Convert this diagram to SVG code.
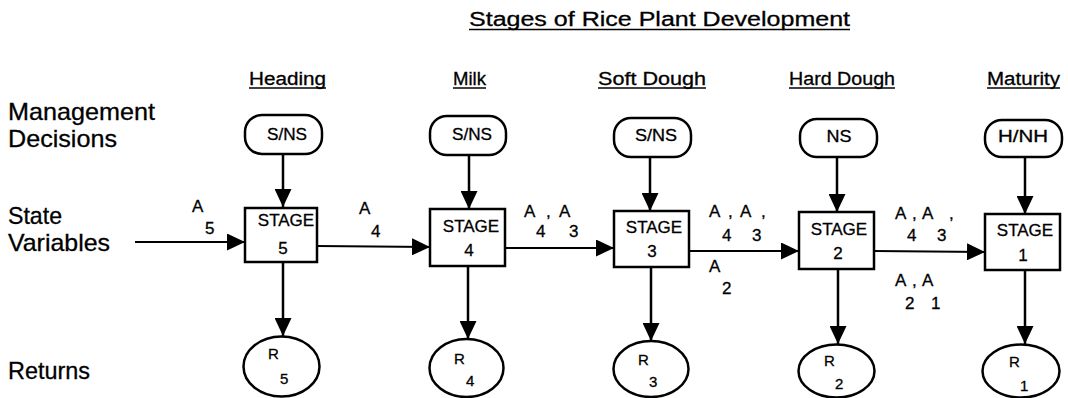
<svg xmlns="http://www.w3.org/2000/svg" width="1068" height="398" viewBox="0 0 1068 398">
<defs>
<marker id="ah" markerUnits="userSpaceOnUse" markerWidth="19" markerHeight="17" refX="18" refY="8.5" orient="auto">
<path d="M0,0 L18,8.5 L0,17 z" fill="#000"/>
</marker>
<style>
text{font-family:"Liberation Sans",Arial,sans-serif;fill:#000;stroke:#000;stroke-width:0.3}
.lbl{font-size:24px}
.hd{font-size:18px}
.ttl{font-size:20px}
.pt{font-size:16px;text-anchor:middle}
.st{font-size:17px;text-anchor:middle}
.sm{font-size:17px}
.rl{font-size:15px}
.ul{stroke:#000;stroke-width:1.5}
.pill,.box,.ell{fill:#fff;stroke:#000;stroke-width:2.5}
.con{stroke:#000;stroke-width:2.5;fill:none;marker-end:url(#ah)}
.hcon{stroke:#000;stroke-width:2;fill:none;marker-end:url(#ah)}
</style>
</defs>
<rect width="1068" height="398" fill="#fff"/>

<g id="title">
<text class="ttl" x="469" y="26" textLength="381" lengthAdjust="spacingAndGlyphs">Stages of Rice Plant Development</text>
<line class="ul" x1="469" y1="29.5" x2="850" y2="29.5"/>
</g>

<g id="stage-headings">
<text class="hd" x="249" y="85" textLength="77" lengthAdjust="spacingAndGlyphs">Heading</text>
<line class="ul" x1="249" y1="88" x2="326" y2="88"/>
<text class="hd" x="453" y="85" textLength="33" lengthAdjust="spacingAndGlyphs">Milk</text>
<line class="ul" x1="453" y1="88" x2="486" y2="88"/>
<text class="hd" x="598" y="85" textLength="108" lengthAdjust="spacingAndGlyphs">Soft Dough</text>
<line class="ul" x1="598" y1="88" x2="706" y2="88"/>
<text class="hd" x="789" y="85" textLength="106" lengthAdjust="spacingAndGlyphs">Hard Dough</text>
<line class="ul" x1="789" y1="88" x2="895" y2="88"/>
<text class="hd" x="987" y="85" textLength="73" lengthAdjust="spacingAndGlyphs">Maturity</text>
<line class="ul" x1="987" y1="88" x2="1060" y2="88"/>
</g>

<g id="row-labels">
<text class="lbl" x="8" y="120" textLength="147" lengthAdjust="spacingAndGlyphs">Management</text>
<text class="lbl" x="8" y="147" textLength="109" lengthAdjust="spacingAndGlyphs">Decisions</text>
<text class="lbl" x="8" y="224" textLength="54" lengthAdjust="spacingAndGlyphs">State</text>
<text class="lbl" x="8" y="251" textLength="102" lengthAdjust="spacingAndGlyphs">Variables</text>
<text class="lbl" x="8" y="379" textLength="82" lengthAdjust="spacingAndGlyphs">Returns</text>
</g>

<g id="connectors">
<line class="con" x1="283" y1="154" x2="283" y2="207"/>
<line class="con" x1="469" y1="155" x2="469" y2="209"/>
<line class="con" x1="650" y1="157" x2="650" y2="211"/>
<line class="con" x1="837" y1="157" x2="837" y2="212"/>
<line class="con" x1="1025" y1="157" x2="1025" y2="214"/>
<line class="hcon" x1="135" y1="242" x2="245" y2="242"/>
<line class="hcon" x1="317" y1="246" x2="430" y2="247"/>
<line class="hcon" x1="505" y1="248" x2="614" y2="248"/>
<line class="hcon" x1="689" y1="251" x2="799" y2="251"/>
<line class="hcon" x1="874" y1="251" x2="985" y2="252"/>
<line class="con" x1="283" y1="262" x2="283" y2="336"/>
<line class="con" x1="468" y1="266" x2="468" y2="339"/>
<line class="con" x1="651" y1="267" x2="651" y2="341"/>
<line class="con" x1="838" y1="269" x2="838" y2="344"/>
<line class="con" x1="1025" y1="270" x2="1025" y2="344"/>
</g>

<g id="connector-labels">
<text class="sm" x="192" y="212">A</text>
<text class="sm" x="205" y="234">5</text>
<text class="sm" x="359" y="214">A</text>
<text class="sm" x="371" y="237">4</text>
<text class="sm" x="524" y="217">A</text>
<text class="sm" x="546" y="217">,</text>
<text class="sm" x="559" y="217">A</text>
<text class="sm" x="536" y="237">4</text>
<text class="sm" x="569" y="237">3</text>
<text class="sm" x="709" y="217">A</text>
<text class="sm" x="728" y="217">,</text>
<text class="sm" x="740" y="217">A</text>
<text class="sm" x="761" y="217">,</text>
<text class="sm" x="722" y="241">4</text>
<text class="sm" x="752" y="241">3</text>
<text class="sm" x="709" y="272">A</text>
<text class="sm" x="722" y="294">2</text>
<text class="sm" x="895" y="219">A</text>
<text class="sm" x="912" y="219">,</text>
<text class="sm" x="922" y="219">A</text>
<text class="sm" x="949" y="219">,</text>
<text class="sm" x="907" y="241">4</text>
<text class="sm" x="937" y="241">3</text>
<text class="sm" x="895" y="286">A</text>
<text class="sm" x="912" y="286">,</text>
<text class="sm" x="922" y="286">A</text>
<text class="sm" x="905" y="309">2</text>
<text class="sm" x="931" y="309">1</text>
</g>

<g id="decision-heading">
<rect class="pill" x="245" y="115" width="77" height="39" rx="17"/>
<text class="pt" x="287" y="140" textLength="40" lengthAdjust="spacingAndGlyphs">S/NS</text>
</g>
<g id="decision-milk">
<rect class="pill" x="430" y="116" width="76" height="39" rx="17"/>
<text class="pt" x="472" y="140" textLength="40" lengthAdjust="spacingAndGlyphs">S/NS</text>
</g>
<g id="decision-softdough">
<rect class="pill" x="614" y="118" width="77" height="39" rx="17"/>
<text class="pt" x="656" y="141" textLength="42" lengthAdjust="spacingAndGlyphs">S/NS</text>
</g>
<g id="decision-harddough">
<rect class="pill" x="800" y="119" width="77" height="38" rx="17"/>
<text class="pt" x="839" y="142" textLength="25" lengthAdjust="spacingAndGlyphs">NS</text>
</g>
<g id="decision-maturity">
<rect class="pill" x="985" y="120" width="77" height="37" rx="17"/>
<text class="pt" x="1023" y="142" textLength="50" lengthAdjust="spacingAndGlyphs">H/NH</text>
</g>

<g id="stage5">
<rect class="box" x="245" y="208" width="72" height="54"/>
<text class="st" x="286" y="226">STAGE</text>
<text class="st" x="283" y="254">5</text>
</g>
<g id="stage4">
<rect class="box" x="430" y="209" width="75" height="57"/>
<text class="st" x="471" y="232">STAGE</text>
<text class="st" x="469" y="256">4</text>
</g>
<g id="stage3">
<rect class="box" x="614" y="211" width="75" height="56"/>
<text class="st" x="654" y="233">STAGE</text>
<text class="st" x="652" y="257">3</text>
</g>
<g id="stage2">
<rect class="box" x="799" y="212" width="75" height="57"/>
<text class="st" x="839" y="235">STAGE</text>
<text class="st" x="838" y="259">2</text>
</g>
<g id="stage1">
<rect class="box" x="985" y="214" width="75" height="56"/>
<text class="st" x="1025" y="236">STAGE</text>
<text class="st" x="1023" y="261">1</text>
</g>

<g id="return5">
<ellipse class="ell" cx="281.5" cy="366.5" rx="38" ry="30"/>
<text class="rl" x="268" y="359">R</text>
<text class="rl" x="280" y="384">5</text>
</g>
<g id="return4">
<ellipse class="ell" cx="466.5" cy="368" rx="37" ry="29"/>
<text class="rl" x="454" y="364">R</text>
<text class="rl" x="466" y="386">4</text>
</g>
<g id="return3">
<ellipse class="ell" cx="651" cy="369" rx="37.5" ry="28"/>
<text class="rl" x="638" y="365">R</text>
<text class="rl" x="649" y="387">3</text>
</g>
<g id="return2">
<ellipse class="ell" cx="836.5" cy="371" rx="38" ry="26.5"/>
<text class="rl" x="824" y="366">R</text>
<text class="rl" x="835" y="389">2</text>
</g>
<g id="return1">
<ellipse class="ell" cx="1021" cy="371" rx="38.5" ry="26.5"/>
<text class="rl" x="1009" y="367">R</text>
<text class="rl" x="1020" y="391">1</text>
</g>
</svg>
